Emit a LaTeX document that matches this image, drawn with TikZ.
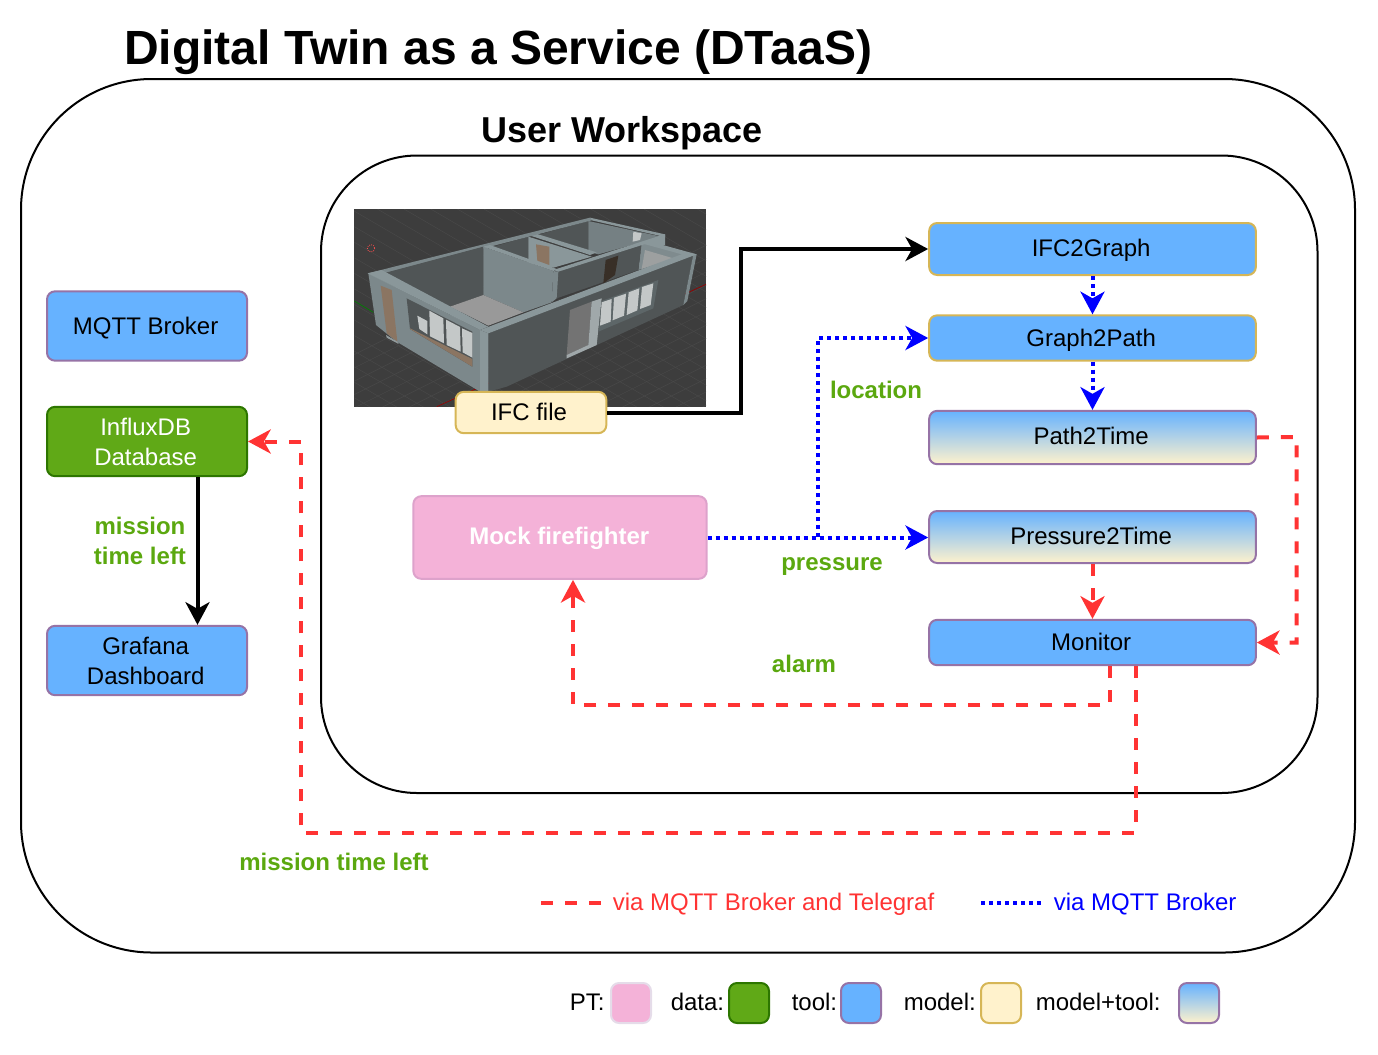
\documentclass[tikz,border=0pt]{standalone}
\usepackage{fontspec}
\setmainfont{Liberation Sans}
\usetikzlibrary{calc, arrows.meta}

\definecolor{toolblue}{HTML}{66B2FF}
\definecolor{toolline}{HTML}{9673A6}
\definecolor{modelfill}{HTML}{FFF2CC}
\definecolor{modelline}{HTML}{D6B656}
\definecolor{datafill}{HTML}{60A917}
\definecolor{dataline}{HTML}{2D7600}
\definecolor{ptfill}{HTML}{F4B2D8}
\definecolor{labelgreen}{HTML}{5BA80F}
\definecolor{viared}{HTML}{FF3333}
\definecolor{viablue}{HTML}{0000FF}
\definecolor{wallpale}{HTML}{8A979A}
\definecolor{walldark}{HTML}{505556}
\definecolor{wallmid}{HTML}{7C888B}
\definecolor{doorbrown}{HTML}{8B7562}
\definecolor{glass}{HTML}{C4C8C8}
\definecolor{floorbg}{HTML}{3D3D3D}
\definecolor{floorgrid}{HTML}{4A4A4A}

\newcommand{\bodyfont}{\fontsize{18}{22.5}\selectfont}
\newcommand{\boldfont}{\fontsize{18}{22.5}\selectfont\bfseries}

\begin{document}
\begin{tikzpicture}[x=.75pt,y=-.75pt,every node/.style={font=\bodyfont},
    bx/.style={draw, rounded corners=6pt, line width=1.5pt, inner sep=0pt, align=center, minimum width=245pt},
    tx/.style={text height=13pt, text depth=#1},
    tool/.style={bx, fill=toolblue, draw=toolline},
    toolg/.style={bx, fill=toolblue, draw=modelline},
    mix/.style={bx, top color=toolblue, bottom color=modelfill, draw=toolline},
    side/.style={tool, minimum width=150pt, minimum height=52pt},
    key/.style={bx, minimum width=30pt, minimum height=30pt},
    lbl/.style={font=\boldfont, text=labelgreen, align=center, inner sep=0pt},
    txt/.style={anchor=west, inner sep=0pt},
    blk/.style={line width=3pt, -{Stealth[length=17pt,width=18pt,inset=5pt]}},
    blu/.style={line width=3pt, viablue, dash pattern=on 3pt off 3pt, -{Stealth[length=17pt,width=18pt,inset=5pt,sep=0pt]}},
    rd/.style={line width=3pt, viared, dash pattern=on 9pt off 9pt, -{Stealth[length=17pt,width=18pt,inset=5pt]}}]
    \useasboundingbox (0,0) rectangle (1378,1054);

    \draw[line width=1.5pt, rounded corners=98pt] (21,79) rectangle (1355,952.5);
    \draw[line width=1.5pt, rounded corners=72pt] (321,155.5) rectangle (1317.5,793);

    \draw (124,52) node[txt, font=\fontsize{36}{40}\selectfont\bfseries](title){Digital Twin as a Service (DTaaS)};
    \draw (481,133) node[txt, font=\fontsize{27}{30}\selectfont\bfseries](workspace){User Workspace};

    \begin{scope}[shift={(340,195)},x=.25pt,y=-.25pt]
        \fill[floorbg] (43,42) rectangle (1098,635);
        \begin{scope}
            \clip (43,42) rectangle (1098,635);
            \foreach \k in {-400,-320,...,1600}
                \draw[floorgrid, line width=.3pt] (\k,700) -- (\k+1100,150);
            \foreach \k in {-1000,-920,...,1000}
                \draw[floorgrid, line width=.3pt] (\k,0) -- (\k+1200,700);
            \draw[red!60!black, line width=.5pt] (290,635) -- (1098,268);
            \draw[green!50!black, line width=.5pt] (43,318) -- (100,352);
        \end{scope}
        \draw[red!70, line width=.6pt, densely dotted] (93,160) circle (11);

        \fill[wallpale] (900,135) -- (975,118) -- (975,150) -- (900,170) -- cycle;
        \fill[walldark] (585,122) -- (745,78) -- (745,170) -- (700,155) -- cycle;
        \fill[black!15!wallpale] (745,78) -- (965,125) -- (775,178) -- (745,170) -- cycle;
        \fill[glass] (880,110) -- (905,115) -- (900,135) -- (878,140) -- cycle;
        \fill[walldark] (460,155) -- (565,125) -- (565,215) -- (640,230) -- cycle;
        \fill[wallpale] (565,125) -- (755,185) -- (640,218) -- (565,205) -- cycle;
        \fill[doorbrown] (588,148) -- (628,155) -- (628,210) -- (592,197) -- cycle;
        \fill[wallpale] (565,120) -- (585,115) -- (770,172) -- (750,180) -- cycle;

        \fill[black!8!wallpale] (905,142) -- (1045,180) -- (895,225) -- cycle;
        \fill[glass!80!black] (915,165) -- (1000,190) -- (905,222) -- cycle;
        \fill[walldark] (650,228) -- (905,145) -- (895,225) -- (650,310) -- cycle;
        \fill[black!60!doorbrown] (797,195) -- (835,182) -- (825,240) -- (790,265) -- cycle;
        \fill[wallpale] (640,225) -- (960,122) -- (975,128) -- (655,230) -- cycle;
        \fill[wallpale] (905,145) -- (925,138) -- (1070,178) -- (1040,182) -- cycle;

        \fill[black!10!wallpale] (83,235) -- (750,68) -- (755,76) -- (130,238) -- cycle;
        \fill[wallpale] (750,68) -- (975,118) -- (975,126) -- (755,76) -- cycle;

        \fill[walldark] (130,235) -- (430,155) -- (430,300) -- (330,335) -- cycle;
        \fill[wallmid] (430,155) -- (640,228) -- (635,322) -- (550,352) -- (430,300) -- cycle;
        \fill[wallpale] (430,155) -- (450,150) -- (650,222) -- (640,228) -- cycle;
        \fill[wallmid] (640,228) -- (655,230) -- (650,310) -- (635,322) -- cycle;
        \fill[black!40] (330,335) -- (430,300) -- (550,352) -- (445,392) -- cycle;

        \fill[wallmid] (85,235) -- (420,405) -- (420,590) -- (170,440) -- (108,390) -- cycle;
        \fill[wallpale] (83,235) -- (125,225) -- (445,395) -- (420,405) -- cycle;
        \fill[doorbrown] (122,272) -- (155,285) -- (172,440) -- (140,415) -- cycle;
        \fill[glass!30!wallmid] (138,420) -- (172,440) -- (176,447) -- (140,428) -- cycle;
        \fill[walldark] (200,310) -- (397,410) -- (397,515) -- (210,402) -- cycle;
        \fill[glass] (268,347) -- (310,370) -- (312,445) -- (270,424) -- cycle;
        \fill[glass] (318,374) -- (360,396) -- (362,470) -- (320,450) -- cycle;
        \fill[glass] (366,400) -- (397,414) -- (397,488) -- (368,472) -- cycle;
        \fill[glass] (232,362) -- (262,378) -- (262,418) -- (238,402) -- cycle;
        \fill[doorbrown] (210,400) -- (397,492) -- (397,515) -- (210,402) -- cycle;

        \fill[walldark] (445,415) -- (1060,180) -- (1030,330) -- (500,575) -- (445,590) -- cycle;
        \fill[wallmid] (1060,178) -- (1070,178) -- (1042,318) -- (1030,330) -- cycle;
        \fill[wallpale] (420,405) -- (1040,172) -- (1070,178) -- (445,415) -- cycle;
        \fill[wallpale] (420,405) -- (445,415) -- (445,590) -- (420,590) -- cycle;
        \fill[black!55] (690,345) -- (755,320) -- (745,450) -- (680,480) -- cycle;
        \fill[glass!50!wallmid] (755,320) -- (785,310) -- (770,450) -- (680,490) -- (680,480) -- (745,450) -- cycle;
        \fill[black!25!wallmid] (785,318) -- (955,255) -- (940,340) -- (775,410) -- cycle;
        \fill[glass] (785,322) -- (815,312) -- (812,380) -- (780,392) -- cycle;
        \fill[glass] (822,308) -- (858,296) -- (852,362) -- (818,376) -- cycle;
        \fill[glass] (866,292) -- (898,280) -- (892,346) -- (860,360) -- cycle;
        \fill[glass] (906,276) -- (940,265) -- (932,330) -- (900,342) -- cycle;
    \end{scope}

    \draw (531,412.5) node[bx, tx=1.5pt, fill=modelfill, draw=modelline, minimum width=113pt, minimum height=31pt](ifc){IFC file\kern3pt};
    \draw (560,537.5) node[bx, tx=3pt, fill=ptfill, draw=ptfill!75!toolline, minimum width=220pt, minimum height=62pt, text=white, font=\boldfont](mock){Mock firefighter\kern1pt};

    \draw (1092.5,249) node[toolg, tx=1.5pt, minimum height=39pt](graph){IFC2Graph\kern2pt};
    \draw (1092.5,338) node[toolg, tx=0pt, minimum height=34pt](path){Graph2Path\kern2pt};
    \draw (1092.5,437.5) node[mix, tx=3pt, minimum height=40pt](time){Path2Time\kern2pt};
    \draw (1092.5,537) node[mix, tx=1.5pt, minimum height=39pt](pressure){Pressure2Time\kern2pt};
    \draw (1092.5,642.5) node[tool, tx=1pt, minimum height=34pt](monitor){Monitor\kern2pt};

    \draw (147,326) node[side, tx=0pt](broker){MQTT Broker\kern2pt};
    \draw (147,441.5) node[side, fill=datafill, draw=dataline, text=white](influx){InfluxDB\kern2pt\\Database\kern2pt};
    \draw (147,660.5) node[side](grafana){Grafana\kern2pt\\Dashboard\kern2pt};

    \coordinate (ifcbend) at (741,412.5);
    \coordinate (locbend) at (818,537);
    \coordinate (dropx) at (197.5,476);
    \coordinate (timebend) at (1296.5,437);
    \coordinate (alarmbend) at (1110,704.5);
    \coordinate (alarmup) at (573,704.5);
    \coordinate (leftbend) at (1135.5,832.5);
    \coordinate (leftup) at (301,832.5);

    \draw[blk] (ifc.east) -- (ifcbend) |- (graph.west);
    \draw[blk] (dropx |- influx.south) -- (dropx |- grafana.north);

    \draw[blu] (mock.east) -- (pressure.west |- mock.east);
    \draw[blu] (locbend) |- (path.west);
    \draw[blu] (graph.south) -- (path.north);
    \draw[blu] (path.south) -- (time.north);

    \draw[rd] (time.east) -- (timebend) |- (monitor.east);
    \draw[rd] (pressure.south) -- (monitor.north);
    \draw[rd] (alarmbend |- monitor.south) -- (alarmbend) -- (alarmup) -- (alarmup |- mock.south);
    \draw[rd] (leftbend |- monitor.south) -- (leftbend) -- (leftup) |- (influx.east);

    \draw (876,390) node[lbl](location){location};
    \draw (832,567) node[lbl](pressurelbl){pressure};
    \draw (804,664) node[lbl](alarm){alarm};
    \draw (140,541) node[lbl](missionA){mission\\time left};
    \draw (334,862) node[lbl](missionB){mission time left};

    \coordinate (redA) at (541,903);
    \coordinate (redB) at (601,903);
    \coordinate (bluA) at (981,903);
    \coordinate (bluB) at (1041,903);
    \draw[line width=3pt, viared, dash pattern=on 9pt off 9pt] (redA) -- (redB);
    \draw[line width=3pt, viablue, dash pattern=on 3pt off 3pt] (bluA) -- (bluB);
    \draw (612.5,904) node[txt, text=viared](viaboth){via MQTT Broker and Telegraf};
    \draw (1053.5,904) node[txt, text=viablue](viambroker){via MQTT Broker};

    \draw (569.5,1002) node[txt](keypt){PT:};
    \draw (631,1003) node[key, fill=ptfill, draw=toolline!25!white](boxpt){};
    \draw (670.5,1002) node[txt](keydata){data:};
    \draw (749,1003) node[key, fill=datafill, draw=dataline](boxdata){};
    \draw (791.5,1002) node[txt](keytool){tool:};
    \draw (861,1003) node[key, fill=toolblue, draw=toolline](boxtool){};
    \draw (903.5,1002) node[txt](keymodel){model:};
    \draw (1001,1003) node[key, fill=modelfill, draw=modelline](boxmodel){};
    \draw (1035.5,1002) node[txt](keymix){model+tool:};
    \draw (1199,1003) node[key, top color=toolblue, bottom color=modelfill, draw=toolline](boxmix){};
\end{tikzpicture}
\end{document}
